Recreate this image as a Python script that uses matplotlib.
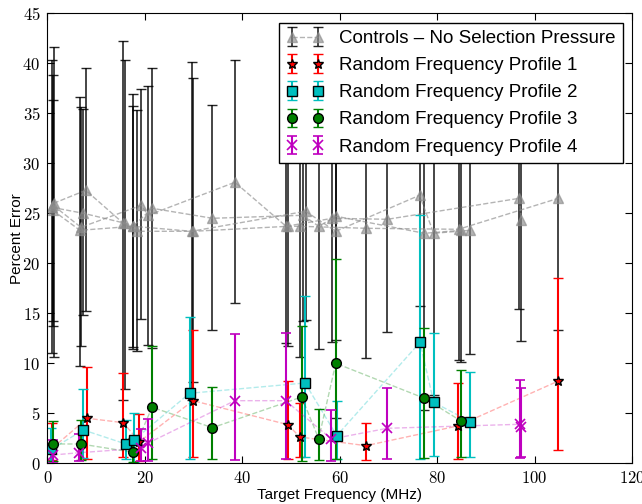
import numpy as np
import matplotlib
matplotlib.use("Agg")
import matplotlib.pyplot as plt
from matplotlib.ticker import FuncFormatter, MultipleLocator

plt.rcParams['font.family'] = ['Liberation Sans', 'DejaVu Sans']
plt.rcParams['mathtext.fontset'] = 'cm'

# controls: one run of ten target frequencies per profile
ctrl_freq = [
    [1.3, 7.9, 15.6, 18.5, 30.0, 49.4, 51.8, 65.4, 84.4, 104.9],
    [0.9, 7.4, 16.0, 17.6, 29.6, 53.0, 59.2, 76.4, 79.3, 86.8],
    [1.1, 6.7, 17.6, 21.5, 33.9, 52.5, 55.7, 59.3, 77.4, 85.0],
    [1.2, 6.9, 19.3, 20.7, 38.5, 49.0, 58.5, 69.8, 96.9, 97.3],
]
ctrl_err = [
    [26.0, 27.3, 24.0, 23.2, 23.2, 23.7, 23.7, 23.5, 23.4, 26.5],
    [25.6, 25.0, 24.0, 23.7, 23.2, 25.2, 23.2, 26.8, 23.0, 23.3],
    [25.3, 23.3, 23.7, 25.5, 24.5, 24.8, 23.7, 24.7, 23.0, 23.3],
    [25.8, 23.6, 25.8, 24.8, 28.1, 23.7, 24.5, 24.4, 26.5, 24.3],
]
ctrl_lo = [
    [10.6, 15.2, 6.3, 11.2, 8.1, 11.7, 10.6, 10.5, 10.3, 13.3],
    [11.0, 14.8, 7.4, 11.6, 6.3, 14.3, 4.5, 15.7, 6.8, 10.9],
    [14.2, 9.7, 11.4, 11.5, 13.3, 14.2, 11.4, 12.3, 5.3, 10.1],
    [13.7, 11.7, 14.4, 11.8, 16.0, 12.0, 12.1, 13.1, 15.4, 12.2],
]
ctrl_hi = [
    [41.6, 39.5, 42.2, 35.3, 38.5, 35.7, 36.8, 36.5, 36.5, 39.7],
    [40.3, 35.4, 40.3, 36.9, 40.1, 36.1, 41.9, 37.9, 39.2, 35.7],
    [36.3, 36.6, 35.7, 39.5, 35.8, 35.4, 36.0, 37.1, 40.7, 36.5],
    [38.8, 35.6, 37.4, 37.7, 40.3, 35.4, 36.9, 35.7, 37.6, 36.4],
]

p1_freq = [1.0, 8.2, 15.6, 18.9, 29.9, 49.4, 51.8, 65.4, 84.2, 104.9]
p1_err = [1.5, 4.5, 4.06, 2.16, 6.26, 3.86, 2.63, 1.76, 3.73, 8.23]
p1_lo = [0.33, 0.46, 0.66, 0.26, 0.6, 0.43, 0.63, 0.3, 0.43, 1.33]
p1_hi = [4.06, 9.6, 9.0, 4.9, 13.3, 8.26, 6.0, 4.06, 8.06, 18.5]

p2_freq = [0.8, 7.4, 16.1, 17.8, 29.2, 52.9, 59.4, 76.5, 79.3, 86.8]
p2_err = [1.4, 3.33, 1.93, 2.33, 7.0, 8.03, 2.76, 12.1, 6.1, 4.16]
p2_lo = [0.2, 0.5, 0.4, 0.16, 0.43, 0.66, 0.46, 0.43, 0.76, 0.66]
p2_hi = [3.5, 7.4, 4.33, 5.06, 14.66, 16.76, 6.26, 24.8, 13.06, 9.16]

p3_freq = [1.1, 6.9, 17.5, 21.5, 33.9, 52.2, 55.7, 59.2, 77.4, 84.9]
p3_err = [1.93, 1.93, 1.1, 5.6, 3.56, 6.63, 2.46, 10.0, 6.5, 4.23]
p3_lo = [0.26, 0.3, 0.16, 0.46, 0.4, 0.23, 0.33, 0.4, 0.5, 0.63]
p3_hi = [4.26, 4.3, 2.5, 11.76, 7.6, 13.73, 5.4, 20.4, 13.56, 9.36]

p4_freq = [1.2, 6.6, 19.2, 20.6, 38.5, 48.9, 58.3, 69.8, 97.0, 97.3]
p4_err = [0.83, 1.06, 1.5, 2.0, 6.26, 6.26, 2.43, 3.5, 3.9, 3.6]
p4_lo = [0.06, 0.23, 0.26, 0.26, 0.33, 0.46, 0.26, 0.4, 0.53, 0.6]
p4_hi = [2.33, 2.9, 3.43, 4.4, 12.9, 13.0, 5.33, 7.5, 8.33, 7.5]

labels = ["Controls \u2013 No Selection Pressure",
          "Random Frequency Profile 1", "Random Frequency Profile 2",
          "Random Frequency Profile 3", "Random Frequency Profile 4"]


def yerr(y, lo, hi):
    y = np.asarray(y)
    return [y - np.asarray(lo), np.asarray(hi) - y]


fig = plt.figure(figsize=(6.42, 5.04), dpi=100)
ax = fig.add_axes([0.0737, 0.0808, 0.9107, 0.8928])

handles = []
for i in range(4):
    c = ax.errorbar(ctrl_freq[i], ctrl_err[i],
                    yerr=yerr(ctrl_err[i], ctrl_lo[i], ctrl_hi[i]),
                    fmt='^--', color='0.55', mec='0.55', ms=7,
                    ecolor='k', elinewidth=1.2, capsize=3.5, lw=1)
    c[0].set_alpha(0.65)
    for b in c[2]:
        b.set_alpha(0.85)
    for cl in c[1]:
        cl.set_alpha(0.85)
    if i == 0:
        handles.append(c)

profiles = [
    (p1_freq, p1_err, p1_lo, p1_hi, 'r', '*', 7),
    (p2_freq, p2_err, p2_lo, p2_hi, 'c', 's', 7),
    (p3_freq, p3_err, p3_lo, p3_hi, 'g', 'o', 7),
    (p4_freq, p4_err, p4_lo, p4_hi, 'm', 'x', 7),
]
for fx, fy, lo, hi, col, mk, ms in profiles:
    ax.plot(fx, fy, '--', color=col, alpha=0.3, lw=1)
    if mk == 'x':
        e = ax.errorbar(fx, fy, yerr=yerr(fy, lo, hi), fmt=mk, color=col,
                        ms=ms, mew=1.2, ecolor=col, elinewidth=1.5, capsize=3.5)
    else:
        e = ax.errorbar(fx, fy, yerr=yerr(fy, lo, hi), fmt=mk, color=col,
                        mfc=col, mec='k', ms=ms, ecolor=col,
                        elinewidth=1.5, capsize=3.5)
    handles.append(e)

ax.set_xlim(0, 120)
ax.set_ylim(0, 45)
ax.xaxis.set_major_locator(MultipleLocator(20))
ax.yaxis.set_major_locator(MultipleLocator(5))
fmt = FuncFormatter(lambda v, p: r'$%d$' % v)
ax.xaxis.set_major_formatter(fmt)
ax.yaxis.set_major_formatter(fmt)
ax.tick_params(direction='in', top=True, right=True, length=5,
               labelsize=12, pad=5)
ax.set_xlabel("Target Frequency (MHz)", fontsize=11, labelpad=1)
ax.set_ylabel("Percent Error", fontsize=11, labelpad=-1)

leg = ax.legend(handles, labels, loc='upper right', numpoints=2,
                fontsize=13.5, fancybox=False, labelspacing=0.53,
                borderpad=0.4, handlelength=2.0)
leg.get_frame().set_edgecolor('k')
leg.get_frame().set_alpha(1)

fig.savefig("out.png", dpi=100)
